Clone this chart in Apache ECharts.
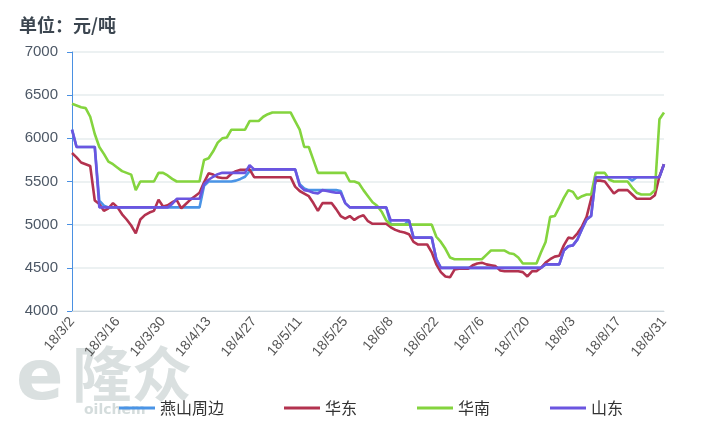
<!DOCTYPE html>
<html><head><meta charset="utf-8">
<script src="https://cdn.jsdelivr.net/npm/echarts@6/dist/echarts.min.js"></script>
<style>html,body{margin:0;padding:0;background:#fff}#c{width:703px;height:427px}</style>
</head><body><div id="c"></div>
<script>
const dates = [
'18/3/2','18/3/5','18/3/6','18/3/7','18/3/8','18/3/9','18/3/12','18/3/13','18/3/14','18/3/15',
'18/3/16','18/3/19','18/3/20','18/3/21','18/3/22','18/3/23','18/3/26','18/3/27','18/3/28','18/3/29',
'18/3/30','18/4/2','18/4/3','18/4/4','18/4/5','18/4/6','18/4/9','18/4/10','18/4/11','18/4/12',
'18/4/13','18/4/16','18/4/17','18/4/18','18/4/19','18/4/20','18/4/23','18/4/24','18/4/25','18/4/26',
'18/4/27','18/4/30','18/5/1','18/5/2','18/5/3','18/5/4','18/5/7','18/5/8','18/5/9','18/5/10',
'18/5/11','18/5/14','18/5/15','18/5/16','18/5/17','18/5/18','18/5/21','18/5/22','18/5/23','18/5/24',
'18/5/25','18/5/28','18/5/29','18/5/30','18/5/31','18/6/1','18/6/4','18/6/5','18/6/6','18/6/7',
'18/6/8','18/6/11','18/6/12','18/6/13','18/6/14','18/6/15','18/6/18','18/6/19','18/6/20','18/6/21',
'18/6/22','18/6/25','18/6/26','18/6/27','18/6/28','18/6/29','18/7/2','18/7/3','18/7/4','18/7/5',
'18/7/6','18/7/9','18/7/10','18/7/11','18/7/12','18/7/13','18/7/16','18/7/17','18/7/18','18/7/19',
'18/7/20','18/7/23','18/7/24','18/7/25','18/7/26','18/7/27','18/7/30','18/7/31','18/8/1','18/8/2',
'18/8/3','18/8/6','18/8/7','18/8/8','18/8/9','18/8/10','18/8/13','18/8/14','18/8/15','18/8/16',
'18/8/17','18/8/20','18/8/21','18/8/22','18/8/23','18/8/24','18/8/27','18/8/28','18/8/29','18/8/30',
'18/8/31'];

const yanshan = [
6100,5900,5900,5900,5900,5900,5280,5220,5200,5200,
5200,5200,5200,5200,5200,5200,5200,5200,5200,5200,
5200,5200,5200,5200,5200,5200,5200,5200,5200,5450,
5500,5500,5500,5500,5500,5500,5510,5530,5555,5620,
5640,5640,5640,5640,5640,5640,5640,5640,5640,5640,
5470,5420,5400,5400,5400,5400,5400,5400,5400,5390,
5250,5200,5200,5200,5200,5200,5200,5200,5200,5200,
5000,5000,5000,5000,5050,4850,4850,4850,4850,4850,
4600,4500,4500,4500,4500,4500,4500,4500,4500,4500,
4500,4500,4500,4500,4500,4500,4500,4500,4500,4500,
4500,4500,4500,4500,4540,4540,4540,4540,4700,4750,
4760,4830,4950,5060,5100,5550,5550,5550,5550,5550,
5550,5550,5550,5510,5550,5550,5550,5550,5550,5550,
5700];

const huadong = [
5830,5780,5720,5700,5680,5280,5240,5160,5190,5250,
5200,5120,5060,4990,4900,5060,5110,5140,5160,5290,
5210,5225,5260,5285,5190,5240,5290,5330,5370,5490,
5595,5580,5550,5540,5540,5590,5620,5635,5635,5640,
5550,5550,5550,5550,5550,5550,5550,5550,5550,5440,
5390,5360,5330,5250,5160,5250,5250,5250,5180,5100,
5070,5100,5055,5090,5110,5040,5010,5010,5010,5010,
4970,4940,4920,4910,4890,4800,4770,4770,4770,4680,
4540,4450,4400,4390,4480,4490,4490,4490,4530,4550,
4560,4540,4530,4520,4470,4460,4460,4460,4460,4450,
4400,4460,4460,4500,4560,4600,4630,4640,4760,4850,
4840,4900,4980,5090,5300,5510,5510,5500,5430,5360,
5400,5400,5400,5350,5300,5300,5300,5300,5340,5560,
5700];

const huanan = [
6400,6380,6360,6350,6250,6050,5900,5820,5730,5700,
5660,5620,5600,5580,5400,5500,5500,5500,5500,5600,
5600,5570,5530,5500,5500,5500,5500,5500,5500,5750,
5770,5850,5950,6000,6010,6100,6100,6100,6100,6200,
6200,6200,6250,6280,6300,6300,6300,6300,6300,6200,
6100,5900,5900,5750,5600,5600,5600,5600,5600,5600,
5600,5500,5500,5480,5400,5330,5260,5220,5150,5050,
5000,5000,5000,5000,5000,5000,5000,5000,5000,5000,
4860,4800,4720,4620,4600,4600,4600,4600,4600,4600,
4600,4650,4700,4700,4700,4700,4670,4660,4620,4550,
4550,4550,4550,4680,4800,5090,5100,5200,5310,5400,
5380,5300,5330,5350,5350,5600,5600,5600,5520,5500,
5500,5500,5500,5430,5370,5350,5350,5350,5400,6220,
6300];

const shandong = [
6100,5900,5900,5900,5900,5900,5200,5200,5200,5200,
5200,5200,5200,5200,5200,5200,5200,5200,5200,5200,
5200,5200,5240,5300,5300,5300,5300,5300,5300,5470,
5520,5555,5585,5600,5600,5600,5600,5600,5600,5690,
5640,5640,5640,5640,5640,5640,5640,5640,5640,5640,
5450,5400,5390,5370,5360,5400,5390,5380,5370,5370,
5250,5200,5200,5200,5200,5200,5200,5200,5200,5200,
5050,5050,5050,5050,5050,4850,4850,4850,4850,4850,
4600,4500,4500,4500,4500,4500,4500,4500,4500,4500,
4500,4500,4500,4500,4500,4500,4500,4500,4500,4500,
4500,4500,4500,4500,4540,4540,4540,4540,4700,4750,
4760,4830,4950,5060,5100,5550,5550,5550,5550,5550,
5550,5550,5550,5550,5550,5550,5550,5550,5550,5550,
5700];

const seriesNames = ['燕山周边','华东','华南','山东'];
const seriesColors = ['#4a94e6','#b3324f','#84d43e','#6b55e0'];
const seriesData = [yanshan, huadong, huanan, shandong];
const yTicks = {min: 4000, max: 7000, interval: 500};

const font = 'Liberation Sans, Arial, Noto Sans CJK SC, sans-serif';
const chart = echarts.init(document.getElementById('c'), null, {renderer: 'canvas'});
chart.setOption({
  animation: false,
  backgroundColor: '#fff',
  title: {
    text: '单位：元/吨', left: 14, top: 11,
    textStyle: {fontSize: 18, fontWeight: 'bold', color: '#3c4650', fontFamily: 'Noto Sans CJK SC, sans-serif'}
  },
  graphic: [
    {type: 'text', left: 72, top: 344, z: 0, silent: true,
     style: {text: '隆众', font: 'bold 60px "Noto Sans CJK SC"', fill: 'rgba(205,214,214,0.75)'}},
    {type: 'text', left: 16, top: 346, z: 0, silent: true,
     style: {text: 'e', font: 'bold 70px "DejaVu Sans"', fill: 'rgba(205,214,214,0.75)'}},
    {type: 'text', left: 84, top: 403, z: 0, silent: true,
     style: {text: 'oilchem', font: 'bold 14px "DejaVu Sans"', fill: 'rgba(205,214,214,0.85)'}}
  ],
  grid: {left: 72, right: 39, top: 52, bottom: 116},
  legend: {
    bottom: 6, left: 114,
    itemWidth: 36, itemHeight: 3, itemGap: 60,
    icon: 'rect',
    textStyle: {fontSize: 16, color: '#333', fontFamily: 'Noto Sans CJK SC, sans-serif'},
    data: seriesNames
  },
  xAxis: {
    type: 'category', data: dates, boundaryGap: false,
    axisLine: {lineStyle: {color: '#cdd6dc'}},
    axisTick: {show: false},
    axisLabel: {interval: 9, rotate: 50, color: '#555', fontSize: 14, fontFamily: font, margin: 8}
  },
  yAxis: {
    type: 'value', min: yTicks.min, max: yTicks.max, interval: yTicks.interval,
    axisLine: {show: true, lineStyle: {color: '#4a90e2'}},
    axisTick: {show: true, length: 5, lineStyle: {color: '#4a90e2'}},
    axisLabel: {color: '#4d5866', fontSize: 15, fontFamily: font, margin: 14, formatter: v => String(v)},
    splitLine: {lineStyle: {color: '#e6ecee', width: 1.5}}
  },
  series: seriesNames.map((n, k) => ({
    name: n, type: 'line', data: seriesData[k], showSymbol: false, symbol: 'none',
    lineStyle: {width: 2.6, color: seriesColors[k]}, itemStyle: {color: seriesColors[k]}
  }))
});
</script></body></html>
